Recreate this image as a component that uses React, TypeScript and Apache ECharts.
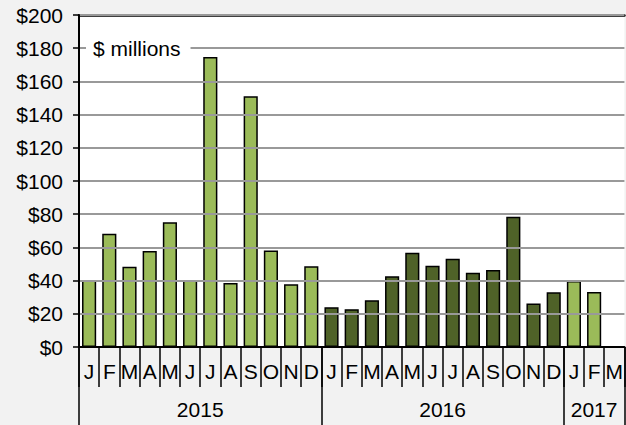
import React, { useEffect, useRef } from "react";
import * as echarts from "echarts";

const monthLetters = ["J", "F", "M", "A", "M", "J", "J", "A", "S", "O", "N", "D"];
const years = ["2015", "2016", "2017"];
const monthsPerYear = [12, 12, 3];

const values2015 = [40, 68.2, 48.4, 57.8, 75.2, 40.4, 174.7, 38.6, 151, 58.2, 37.8, 48.6];
const values2016 = [24, 22.8, 28.2, 42.6, 56.8, 49, 53.2, 44.8, 46.4, 78.4, 26.2, 33];
const values2017 = [39.8, 33.2, null];

const yearColors = ["#9bbb59", "#4f6228", "#9bbb59"];
const yTicks = [0, 20, 40, 60, 80, 100, 120, 140, 160, 180, 200];

const FONT = "'Liberation Sans', Arial, sans-serif";
const FS = 21;

export default function App() {
  const ref = useRef<HTMLDivElement>(null);

  useEffect(() => {
    if (!ref.current) return;
    const chart = echarts.init(ref.current, null, { renderer: "svg" });

    const allValues = [values2015, values2016, values2017];
    const categories: string[] = [];
    const data: any[] = [];
    const yearStarts: number[] = [];
    let idx = 0;
    years.forEach((y, yi) => {
      yearStarts.push(idx);
      for (let m = 0; m < monthsPerYear[yi]; m++) {
        categories.push(`${y}-${m}`);
        const v = allValues[yi][m];
        data.push({ value: v, itemStyle: { color: yearColors[yi] } });
        idx++;
      }
    });
    const total = idx;
    const yearCenters = years.map((_, yi) => yearStarts[yi] + monthsPerYear[yi] / 2);
    const yearBounds = [...yearStarts, total];

    chart.setOption({
      animation: false,
      backgroundColor: "#f2f2f2",
      textStyle: { fontFamily: FONT },
      grid: {
        left: 79,
        top: 15,
        width: 549,
        height: 332,
        show: true,
        backgroundColor: "#ffffff",
        borderWidth: 0,
      },
      xAxis: [
        {
          type: "category",
          data: categories,
          position: "bottom",
          boundaryGap: true,
          axisLine: { show: true, lineStyle: { color: "#000", width: 2 } },
          axisTick: {
            show: true,
            interval: 0,
            length: 40,
            alignWithLabel: false,
            lineStyle: { color: "#000", width: 1.5 },
          },
          axisLabel: {
            interval: 0,
            margin: 14,
            fontSize: FS,
            color: "#000",
            fontFamily: FONT,
            formatter: (v: string) => monthLetters[parseInt(v.split("-")[1], 10)],
          },
          splitLine: { show: false },
          z: 5,
        },
        {
          type: "value",
          position: "bottom",
          min: 0,
          max: total,
          axisLine: { show: false },
          axisTick: {
            show: true,
            length: 78,
            customValues: yearBounds,
            lineStyle: { color: "#000", width: 1.5 },
          },
          axisLabel: {
            show: true,
            margin: 52,
            fontSize: FS,
            color: "#000",
            fontFamily: FONT,
            customValues: yearCenters,
            formatter: (v: number) => {
              const i = yearCenters.findIndex((c) => Math.abs(c - v) < 0.01);
              return i >= 0 ? years[i] : "";
            },
          },
          splitLine: { show: false },
        },
        {
          type: "value",
          position: "top",
          min: 0,
          max: 1,
          axisLine: { show: true, lineStyle: { color: "#000", width: 2.5 } },
          axisTick: { show: false },
          axisLabel: { show: false },
          splitLine: { show: false },
        },
      ],
      yAxis: {
        type: "value",
        min: yTicks[0],
        max: yTicks[yTicks.length - 1],
        interval: 20,
        axisLine: { show: true, lineStyle: { color: "#000", width: 2 } },
        axisTick: { show: true, length: 6, lineStyle: { color: "#000", width: 1.5 } },
        axisLabel: {
          margin: 16,
          fontSize: FS,
          color: "#000",
          fontFamily: FONT,
          formatter: (v: number) => "$" + v,
        },
        splitLine: { show: true, lineStyle: { color: "#999999", width: 2 } },
        z: 5,
      },
      graphic: [
        {
          type: "text",
          x: 86,
          y: 48,
          z: 10,
          style: {
            text: "$ millions",
            fontSize: FS,
            fontFamily: FONT,
            fill: "#000",
            backgroundColor: "#ffffff",
            padding: [2, 10, 2, 7],
            align: "left",
            verticalAlign: "middle",
          },
        },
      ],
      series: [
        {
          type: "bar",
          xAxisIndex: 0,
          data,
          barCategoryGap: "30%",
          itemStyle: { borderColor: "#000", borderWidth: 1.5 },
        },
      ],
    });

    return () => chart.dispose();
  }, []);

  return (
    <div
      ref={ref}
      style={{ position: "fixed", left: 0, top: 0, width: 626, height: 425 }}
    />
  );
}
